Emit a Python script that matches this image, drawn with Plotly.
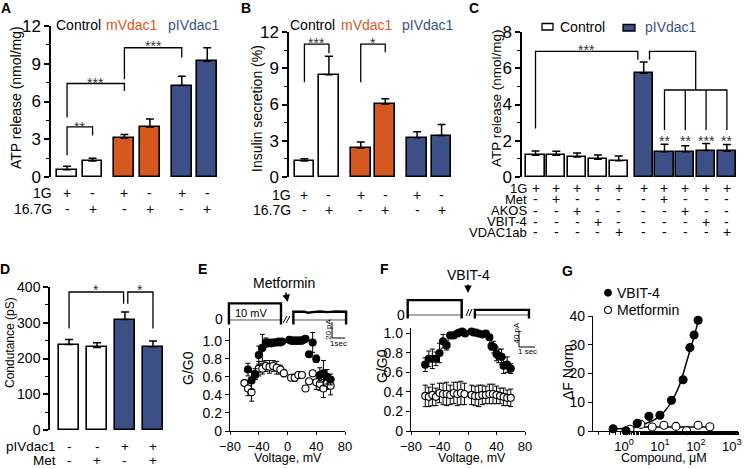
import plotly.graph_objects as go

W, H = 745, 469
def px(x): return x / W
def py(y): return 1 - y / H
def dom_x(a, b): return [a / W, b / W]
def dom_y(top, bottom): return [1 - bottom / H, 1 - top / H]

FONT = "Liberation Sans, Arial, Helvetica, sans-serif"
ORANGE = "#D5581E"
BLUE = "#3D4F87"
WHITE = "#FFFFFF"

# ---------------- data ----------------
# Panel A: ATP release (nmol/mg)
A_groups = ["Control", "mVdac1", "pIVdac1"]
A_row_1G = ["+", "-", "+", "-", "+", "-"]
A_row_167G = ["-", "+", "-", "+", "-", "+"]
A_atp = [0.58, 1.27, 3.10, 3.98, 7.27, 9.20]
A_atp_err = [0.27, 0.23, 0.27, 0.62, 0.73, 1.07]

# Panel B: insulin secretion (%)
B_row_1G = ["+", "-", "+", "-", "+", "-"]
B_row_167G = ["-", "+", "-", "+", "-", "+"]
B_insulin = [1.33, 8.47, 2.41, 6.05, 3.24, 3.43]
B_insulin_err = [0.19, 1.53, 0.49, 0.43, 0.50, 0.92]

# Panel C: ATP release with inhibitors
C_row_labels = ["1G", "Met", "AKOS", "VBIT-4", "VDAC1ab"]
C_row_values = [
    ["+", "+", "+", "+", "+", "+", "+", "+", "+", "+"],
    ["-", "+", "-", "-", "-", "-", "+", "-", "-", "-"],
    ["-", "-", "+", "-", "-", "-", "-", "+", "-", "-"],
    ["-", "-", "-", "+", "-", "-", "-", "-", "+", "-"],
    ["-", "-", "-", "-", "+", "-", "-", "-", "-", "+"],
]
C_atp = [1.20, 1.20, 1.11, 0.98, 0.90, 5.73, 1.39, 1.39, 1.46, 1.42]
C_atp_err = [0.24, 0.22, 0.22, 0.24, 0.26, 0.61, 0.42, 0.33, 0.39, 0.37]
C_stars = ["**", "**", "***", "**"]

# Panel D: conductance (pS)
D_row_labels = ["pIVdac1", "Met"]
D_row_values = [["-", "-", "+", "+"], ["-", "+", "-", "+"]]
D_cond = [239, 231, 309, 233]
D_cond_err = [14, 13, 21, 16]

# Panel E: G/G0 vs voltage, control and metformin
E_volt_ctrl = [-55, -50, -45, -40, -35, -30, -27.5, -25, -22.5, -20, -17.5, -15, -12.5, -10, -7.5,
               2.5, 5, 7.5, 10, 12.5, 15, 17.5, 20, 22.5, 25, 30, 35, 40, 45, 50, 55, 60]
E_g_ctrl = [0.68, 0.56, 0.63, 0.84, 0.92, 0.98, 0.97, 0.98, 0.97, 0.98, 0.98, 0.98, 0.99, 0.98, 0.99,
            1.01, 1.00, 1.00, 1.00, 1.00, 1.00, 1.00, 1.00, 1.01, 1.02, 0.85, 0.98, 0.80, 0.62, 0.64, 0.60, 0.57]
E_g_ctrl_err = [0.07, 0.10, 0.06, 0.10, 0.15, 0.05, 0.02, 0.02, 0.02, 0.02, 0.02, 0.02, 0.02, 0.02, 0.02,
                0.02, 0.02, 0.02, 0.02, 0.02, 0.02, 0.02, 0.02, 0.02, 0.02, 0.03, 0.11, 0.04, 0.08, 0.14, 0.08, 0.06]
E_volt_met = [-60, -55, -50, -45, -40, -35, -30, -25, -20, -15, -10, -5, 5, 10, 15, 20, 25, 30, 35, 40, 45, 50, 55, 60]
E_g_met = [0.53, 0.47, 0.43, 0.62, 0.69, 0.69, 0.72, 0.71, 0.72, 0.70, 0.68, 0.64,
           0.59, 0.59, 0.62, 0.62, 0.47, 0.55, 0.64, 0.54, 0.52, 0.47, 0.53, 0.50]
E_g_met_err = [0.03, 0.08, 0.10, 0.05, 0.08, 0.06, 0.06, 0.07, 0.06, 0.07, 0.05, 0.04,
               0.03, 0.04, 0.03, 0.02, 0.02, 0.02, 0.02, 0.08, 0.07, 0.10, 0.07, 0.10]
# single channel current trace (E inset), seconds / pA
E_trace_ctrl_t = [0, 0, 4.0, 4.0]
E_trace_ctrl_i = [-5, 18.5, 18.5, -5]
E_trace_met_t = [4.95, 4.95, 5.8, 6.1, 6.4, 7.0, 7.6, 8.2, 9.0, 9.0]
E_trace_met_i = [-5, 9.2, 9.2, 8.0, 8.8, 9.5, 8.8, 9.4, 9.2, -5]

# Panel F: G/G0 vs voltage, control and VBIT-4
F_volt_ctrl = [-60, -55, -50, -45, -40, -35, -30, -25, -20, -15, -12, -8, -4,
               5, 8, 11, 15, 20, 25, 30, 33, 36, 40, 43, 47, 50, 55, 60]
F_g_ctrl = [0.68, 0.74, 0.74, 0.74, 0.80, 0.92, 0.88, 0.98, 0.98, 1.00, 1.01, 1.02, 1.00,
            1.02, 1.01, 1.01, 1.00, 0.99, 1.00, 0.96, 0.87, 0.86, 0.79, 0.77, 0.76, 0.67, 0.68, 0.64]
F_g_ctrl_err = [0.07, 0.08, 0.10, 0.07, 0.10, 0.07, 0.05, 0.02, 0.02, 0.02, 0.02, 0.02, 0.02,
                0.02, 0.02, 0.02, 0.02, 0.02, 0.02, 0.03, 0.04, 0.06, 0.07, 0.07, 0.08, 0.08, 0.08, 0.05]
F_volt_vbit = [-60, -55, -50, -45, -40, -35, -30, -25, -20, -15, -10, -5, 5, 10, 15, 20, 25, 30, 35, 40, 45, 50, 55, 60]
F_g_vbit = [0.36, 0.35, 0.37, 0.35, 0.39, 0.38, 0.38, 0.37, 0.39, 0.38, 0.39, 0.38,
            0.37, 0.36, 0.36, 0.37, 0.37, 0.38, 0.38, 0.37, 0.36, 0.35, 0.34, 0.34]
F_g_vbit_err = [0.11, 0.10, 0.11, 0.09, 0.10, 0.11, 0.12, 0.10, 0.11, 0.12, 0.12, 0.11,
                0.10, 0.10, 0.11, 0.10, 0.09, 0.10, 0.10, 0.09, 0.08, 0.09, 0.08, 0.09]
F_trace_ctrl_t = [0, 0, 3.375, 3.375]
F_trace_ctrl_i = [-8, 35, 35, -8]
F_trace_vbit_t = [4.2, 4.2, 7.58, 7.58]
F_trace_vbit_i = [-8, 12, 12, -8]

# Panel G: dose response (ΔF Norm)
G_conc_vbit = [0.50, 1.14, 2.34, 4.95, 10.0, 21.0, 44.0, 68.0, 89.0, 115.0]
G_df_vbit = [0.8, 0.1, 2.7, 5.1, 5.5, 10.7, 17.8, 29.0, 33.4, 38.5]
G_fit_vbit_x = [0.50, 1.5, 4.0, 10.0, 20.0, 35.0, 55.0, 85.0, 120.0]
G_fit_vbit_y = [0.6, 1.2, 2.6, 5.2, 9.8, 16.0, 24.0, 32.0, 39.0]
G_conc_met = [1.47, 2.96, 6.1, 12.9, 27.8, 55.0, 115.0, 244.0]
G_df_met = [0.6, 2.3, 1.4, 2.0, 1.6, 0.1, 2.0, 1.5]
G_fit_met_x = [1.47, 244.0]
G_fit_met_y = [1.4, 1.4]

# ---------------- figure ----------------
fig = go.Figure()
layout = dict(width=W, height=H, margin=dict(l=0, r=0, t=0, b=0, pad=0, autoexpand=False), autosize=False,
              paper_bgcolor="white", plot_bgcolor="rgba(0,0,0,0)", showlegend=False,
              font=dict(family=FONT, color="black"), bargap=0)
annotations = []
shapes = []


def ann(text, x, y, size=14, color="black", xanchor="center", yanchor="middle",
        xref="paper", yref="paper", angle=0, yshift=0):
    annotations.append(dict(text=text, x=x, y=y, xref=xref, yref=yref, showarrow=False,
                            font=dict(size=size, color=color, family=FONT),
                            xanchor=xanchor, yanchor=yanchor, textangle=angle, yshift=yshift))


def axref(n):
    s = "" if n == 1 else str(n)
    return "x" + s, "y" + s, s


def set_axes(n, xdom, ydom, xcfg, ycfg):
    xr, yr, s = axref(n)
    layout["xaxis" + s] = dict(domain=xdom, anchor=yr, automargin=False, **xcfg)
    layout["yaxis" + s] = dict(domain=ydom, anchor=xr, automargin=False, **ycfg)


def yaxis_bar(rng, dtick, minor, size=17):
    return dict(range=rng, showline=True, linecolor="black", linewidth=1.5, ticks="outside",
                ticklen=5, tickwidth=1.5, tickcolor="black", showgrid=False, zeroline=False,
                dtick=dtick, tick0=0, tickfont=dict(size=size, color="black", family=FONT),
                minor=dict(ticks="outside", ticklen=3, tickwidth=1.2, tickcolor="black", dtick=minor),
                fixedrange=True)


def hidden_x(rng):
    return dict(range=rng, visible=False, fixedrange=True)


def add_bars(n, x, y, err, colors, width):
    xr, yr, _ = axref(n)
    fig.add_trace(go.Bar(x=x, y=y, width=width, xaxis=xr, yaxis=yr,
                         marker=dict(color=colors, line=dict(color="black", width=1.6)),
                         error_y=dict(type="data", symmetric=False, array=err,
                                      arrayminus=[0] * len(err), color="black",
                                      thickness=1.5, width=4),
                         showlegend=False))


def bracket(n, x1, x2, ytop, yleft, yright):
    xr, yr, _ = axref(n)
    shapes.append(dict(type="path", xref=xr, yref=yr,
                       path=f"M {x1},{yleft} L {x1},{ytop} L {x2},{ytop} L {x2},{yright}",
                       line=dict(color="black", width=1.3)))


def seg(n, xs, ys):
    xr, yr, _ = axref(n)
    path = "M " + " L ".join(f"{a},{b}" for a, b in zip(xs, ys))
    shapes.append(dict(type="path", xref=xr, yref=yr, path=path, line=dict(color="black", width=1.3)))


def star(n, x, y, text, yref=None):
    xr, yr, _ = axref(n)
    ann(text, x, y, size=14, color="#333333", xref=xr, yref=yref or yr, yshift=-4)


def pos_groups(n_groups, per_group, offset):
    return [g * offset + i for g in range(n_groups) for i in range(per_group)]


# ---- Panel A ----
A_x = pos_groups(3, 2, 2.25)
A_colors = [WHITE, WHITE, ORANGE, ORANGE, BLUE, BLUE]
set_axes(1, dom_x(51, 220), dom_y(26, 177), hidden_x([-0.63, 6.0]), yaxis_bar([0, 12], 3, 1.5))
add_bars(1, A_x, A_atp, A_atp_err, A_colors, 0.78)
bracket(1, A_x[0], A_x[1], 3.98, 1.72, 3.3)
star(1, (A_x[0] + A_x[1]) / 2, 4.3, "**")
bracket(1, A_x[0], A_x[2], 7.43, 4.72, 6.84)
star(1, (A_x[0] + A_x[2]) / 2, 7.77, "***")
bracket(1, A_x[2], A_x[4], 10.27, 7.77, 9.5)
star(1, (A_x[2] + A_x[4]) / 2, 10.74, "***")
for txt, xc, col in zip(A_groups, [78.5, 131.5, 193.5], ["black", ORANGE, BLUE]):
    ann(txt, px(xc), py(25), size=14, color=col)
for label, vals, yy in [("1G", A_row_1G, 193), ("16.7G", A_row_167G, 209)]:
    ann(label, px(54), py(yy), size=14, xanchor="right")
    for xv, v in zip(A_x, vals):
        ann(v, xv, py(yy), size=14, xref="x")
ann("ATP release (nmol/mg)", px(16), py(98), size=14, angle=-90)
ann("<b>A</b>", px(6), py(8), size=14)

# ---- Panel B ----
B_x = pos_groups(3, 2, 2.3)
set_axes(2, dom_x(289, 458), dom_y(32, 177), hidden_x([-0.63, 6.27]), yaxis_bar([0, 12], 3, 1.5))
add_bars(2, B_x, B_insulin, B_insulin_err, A_colors, 0.8)
bracket(2, B_x[0], B_x[1], 11.0, 7.84, 10.25)
star(2, (B_x[0] + B_x[1]) / 2, 11.42, "***")
bracket(2, B_x[2], B_x[3], 11.0, 7.84, 10.33)
star(2, (B_x[2] + B_x[3]) / 2, 11.42, "*")
for txt, xc, col in zip(A_groups, [312.5, 366.5, 427.5], ["black", ORANGE, BLUE]):
    ann(txt, px(xc), py(25), size=14, color=col)
for label, vals, yy in [("1G", B_row_1G, 195), ("16.7G", B_row_167G, 210)]:
    ann(label, px(293), py(yy), size=14, xanchor="right")
    for xv, v in zip(B_x, vals):
        ann(v, xv, py(yy), size=14, xref="x2")
ann("Insulin secretion (%)", px(257), py(109), size=14, angle=-90)
ann("<b>B</b>", px(246), py(8), size=14)

# ---- Panel C ----
C_x = pos_groups(2, 5, 5.2)
C_colors = [WHITE] * 5 + [BLUE] * 5
set_axes(3, dom_x(522, 740), dom_y(32, 177), hidden_x([-0.65, 9.83]), yaxis_bar([0, 8], 2, 1))
add_bars(3, C_x, C_atp, C_atp_err, C_colors, 0.87)
bracket(3, C_x[0], C_x[5] - 0.28, 6.93, 2.68, 6.47)
star(3, (C_x[0] + C_x[5] - 0.28) / 2, 7.21, "***")
mid_right = (C_x[6] + C_x[9]) / 2
bracket(3, C_x[5] + 0.28, mid_right, 6.93, 6.47, 4.8)
bracket(3, C_x[6], C_x[9], 4.8, 2.59, 2.59)
for k in (7, 8):
    seg(3, [C_x[k], C_x[k]], [4.8, 2.59])
for k, s in zip(range(6, 10), C_stars):
    star(3, C_x[k], 2.22, s)
rows_y = [188.3, 199.3, 210.7, 221.7, 232.3]
for label, vals, yy in zip(C_row_labels, C_row_values, rows_y):
    ann(label, px(529), py(yy), size=13, xanchor="right")
    for xv, v in zip(C_x, vals):
        ann(v, xv, py(yy), size=14, xref="x3")
shapes.append(dict(type="rect", xref="paper", yref="paper", x0=px(542), x1=px(553), y0=py(30), y1=py(23.5),
                   line=dict(color="black", width=1.3), fillcolor=WHITE))
shapes.append(dict(type="rect", xref="paper", yref="paper", x0=px(623), x1=px(635), y0=py(31), y1=py(24.5),
                   line=dict(color="black", width=1.3), fillcolor=BLUE))
ann("Control", px(558), py(27), size=14, xanchor="left")
ann("pIVdac1", px(643), py(27), size=14, xanchor="left", color=BLUE)
ann("ATP release (nmol/mg)", px(497), py(98), size=13.5, angle=-90)
ann("<b>C</b>", px(474), py(8), size=14)

# ---- Panel D ----
D_x = [0, 1, 2, 3]
D_colors = [WHITE, WHITE, BLUE, BLUE]
set_axes(4, dom_x(50, 172), dom_y(287, 430), hidden_x([-0.68, 3.68]), yaxis_bar([0, 400], 100, 50, size=14))
add_bars(4, D_x, D_cond, D_cond_err, D_colors, 0.71)
bracket(4, D_x[0], D_x[2] - 0.05, 386, 284, 353)
star(4, (D_x[0] + D_x[2] - 0.05) / 2, py(286), "*", yref="paper")
bracket(4, D_x[2] + 0.1, D_x[3], 386, 353, 284)
star(4, (D_x[2] + 0.1 + D_x[3]) / 2, py(286), "*", yref="paper")
for label, vals, yy in zip(D_row_labels, D_row_values, [446.5, 460.5]):
    ann(label, px(58), py(yy), size=13.5, xanchor="right")
    for xv, v in zip(D_x, vals):
        ann(v, xv, py(yy), size=13.5, xref="x4")
ann("Condutance (pS)", px(10), py(343), size=12, angle=-90)
ann("<b>D</b>", px(5), py(269), size=14)


# ---- Panels E / F scatter ----
def scat_axes(n, xdom, ydom, ytop):
    xcfg = dict(range=[-80, 80], showline=True, linecolor="black", linewidth=1.3, ticks="outside",
                ticklen=3, tickwidth=1.3, tickcolor="black", showgrid=False, zeroline=False,
                tickvals=[-80, -40, 0, 40, 80], tickfont=dict(size=13, color="black", family=FONT),
                fixedrange=True)
    ycfg = dict(range=[0, ytop], showline=True, linecolor="black", linewidth=1.3, ticks="outside",
                ticklen=4, tickwidth=1.3, tickcolor="black", showgrid=False, zeroline=False,
                tickvals=[0, 0.2, 0.4, 0.6, 0.8, 1.0], ticktext=["0", "0.2", "0.4", "0.6", "0.8", "1.0"],
                tickfont=dict(size=14, color="black", family=FONT), fixedrange=True)
    set_axes(n, xdom, ydom, xcfg, ycfg)


def add_points(n, x, y, err, filled, size=7):
    xr, yr, _ = axref(n)
    fig.add_trace(go.Scatter(x=x, y=y, mode="markers", xaxis=xr, yaxis=yr, cliponaxis=False,
                             marker=dict(size=size, color="black" if filled else "white",
                                         line=dict(color="black", width=1.1)),
                             error_y=None if err is None else dict(type="data", array=err, color="black",
                                                                   thickness=1, width=2.5),
                             showlegend=False))


def add_line(n, x, y, width=1.5, color="black", shape="linear"):
    xr, yr, _ = axref(n)
    fig.add_trace(go.Scatter(x=x, y=y, mode="lines", xaxis=xr, yaxis=yr, cliponaxis=False,
                             line=dict(color=color, width=width, shape=shape), showlegend=False,
                             hoverinfo="skip"))


scat_axes(5, dom_x(230, 345), dom_y(328, 431), 1.14)
add_points(5, E_volt_met, E_g_met, E_g_met_err, False)
add_points(5, E_volt_ctrl, E_g_ctrl, E_g_ctrl_err, True)
ann("G/G0", px(188), py(368), size=14, angle=-90)
ann("Voltage, mV", px(288), py(458), size=12.5)
ann("<b>E</b>", px(202), py(269), size=14)

scat_axes(6, dom_x(411, 525), dom_y(328, 431), 1.056)
add_points(6, F_volt_vbit, F_g_vbit, F_g_vbit_err, False)
add_points(6, F_volt_ctrl, F_g_ctrl, F_g_ctrl_err, True)
ann("G/G0", px(382), py(366), size=14, angle=-90)
ann("Voltage, mV", px(472), py(458), size=12.5)
ann("<b>F</b>", px(384), py(269), size=14)

# ---- insets: current traces ----
set_axes(8, dom_x(225, 350), dom_y(296, 326), hidden_x([-0.3, 9.3]),
         dict(range=[-6.7, 26.7], visible=False, fixedrange=True))
add_line(8, [E_trace_ctrl_t[0], E_trace_ctrl_t[-1], None, E_trace_met_t[0], E_trace_met_t[-1]],
         [0, 0, None, 0, 0], width=1, color="#555555")
add_line(8, E_trace_ctrl_t, E_trace_ctrl_i, width=2.4)
add_line(8, E_trace_met_t, E_trace_met_i, width=2.4)
ann("0", px(219), py(319), size=14)
ann("10 mV", px(251), py(313), size=11)
annotations.append(dict(text="Metformin", x=px(287.7), y=py(302), xref="paper", yref="paper",
                        showarrow=True, ax=-4, ay=-19, arrowhead=2, arrowsize=1, arrowwidth=1.5,
                        arrowcolor="black", font=dict(size=14, family=FONT, color="black")))
shapes.append(dict(type="line", xref="paper", yref="paper", x0=px(283), y0=py(323), x1=px(287), y1=py(316),
                   line=dict(color="black", width=1)))
shapes.append(dict(type="line", xref="paper", yref="paper", x0=px(286), y0=py(323), x1=px(290), y1=py(316),
                   line=dict(color="black", width=1)))
shapes.append(dict(type="path", xref="paper", yref="paper",
                   path=f"M {px(332)},{py(322)} L {px(332)},{py(338)} L {px(345)},{py(338)}",
                   line=dict(color="black", width=1)))
ann("20 pA", px(328), py(329), size=8, angle=-90)
ann("1sec", px(338), py(343), size=8)

set_axes(9, dom_x(404, 532), dom_y(294, 324), hidden_x([-0.23, 7.77]),
         dict(range=[-21.2, 49.4], visible=False, fixedrange=True))
add_line(9, [F_trace_ctrl_t[0], F_trace_ctrl_t[-1], None, F_trace_vbit_t[0], F_trace_vbit_t[-1]],
         [0, 0, None, 0, 0], width=1, color="#555555")
add_line(9, F_trace_ctrl_t, F_trace_ctrl_i, width=2.4)
add_line(9, F_trace_vbit_t, F_trace_vbit_i, width=2.4)
ann("0", px(401), py(315), size=14)
annotations.append(dict(text="VBIT-4", x=px(468), y=py(293), xref="paper", yref="paper",
                        showarrow=True, ax=0, ay=-18, arrowhead=2, arrowsize=1, arrowwidth=1.5,
                        arrowcolor="black", font=dict(size=14, family=FONT, color="black")))
shapes.append(dict(type="line", xref="paper", yref="paper", x0=px(466), y0=py(316), x1=px(469), y1=py(309),
                   line=dict(color="black", width=1)))
shapes.append(dict(type="line", xref="paper", yref="paper", x0=px(469), y0=py(316), x1=px(472), y1=py(309),
                   line=dict(color="black", width=1)))
shapes.append(dict(type="path", xref="paper", yref="paper",
                   path=f"M {px(519)},{py(331)} L {px(519)},{py(347)} L {px(535)},{py(347)}",
                   line=dict(color="black", width=1)))
ann("40 pA", px(515.5), py(333), size=8, angle=-90)
ann("1 sec", px(527), py(351), size=8)

# ---- Panel G ----
gx = dict(type="log", range=[-0.86, 3.17], showline=True, linecolor="black", linewidth=1.3,
          ticks="outside", ticklen=3, tickwidth=1.3, tickcolor="black", showgrid=False, zeroline=False,
          tickvals=[0.1, 1, 10, 100, 1000],
          ticktext=["10<sup>-1</sup>", "10<sup>0</sup>", "10<sup>1</sup>", "10<sup>2</sup>", "10<sup>3</sup>"],
          tickfont=dict(size=13, color="black", family=FONT),
          minor=dict(ticks="outside", ticklen=2.5, tickwidth=1, tickcolor="black", showgrid=False),
          fixedrange=True)
gy = dict(range=[0, 40], showline=True, linecolor="black", linewidth=1.3, ticks="outside", ticklen=4,
          tickwidth=1.3, tickcolor="black", showgrid=False, zeroline=False, dtick=10,
          tickfont=dict(size=14, color="black", family=FONT), fixedrange=True)
set_axes(7, dom_x(593, 738), dom_y(316, 431), gx, gy)
add_line(7, G_fit_met_x, G_fit_met_y, width=1.5)
add_line(7, G_fit_vbit_x, G_fit_vbit_y, width=1.5, shape="spline")
add_points(7, G_conc_met, G_df_met, None, False, size=8)
add_points(7, G_conc_vbit, G_df_vbit, None, True, size=8)
shapes.append(dict(type="circle", xref="paper", yref="paper", x0=px(604.5), x1=px(611.5),
                   y0=py(296.2), y1=py(289.2), line=dict(color="black", width=1), fillcolor="black"))
shapes.append(dict(type="circle", xref="paper", yref="paper", x0=px(604.5), x1=px(611.5),
                   y0=py(313.5), y1=py(306.5), line=dict(color="black", width=1.1), fillcolor="white"))
ann("VBIT-4", px(615), py(292.7), size=14, xanchor="left")
ann("Metformin", px(615), py(310), size=14, xanchor="left")
ann("ΔF Norm", px(568), py(372), size=14, angle=-90)
ann("Compound, μM", px(664), py(458), size=12.5)
ann("<b>G</b>", px(567), py(271), size=14)

layout["annotations"] = annotations
layout["shapes"] = shapes
fig.update_layout(**layout)
fig.write_html("out.html", config={"responsive": False, "displayModeBar": False},
               post_script="document.body.style.margin='0';document.body.style.padding='0';")
